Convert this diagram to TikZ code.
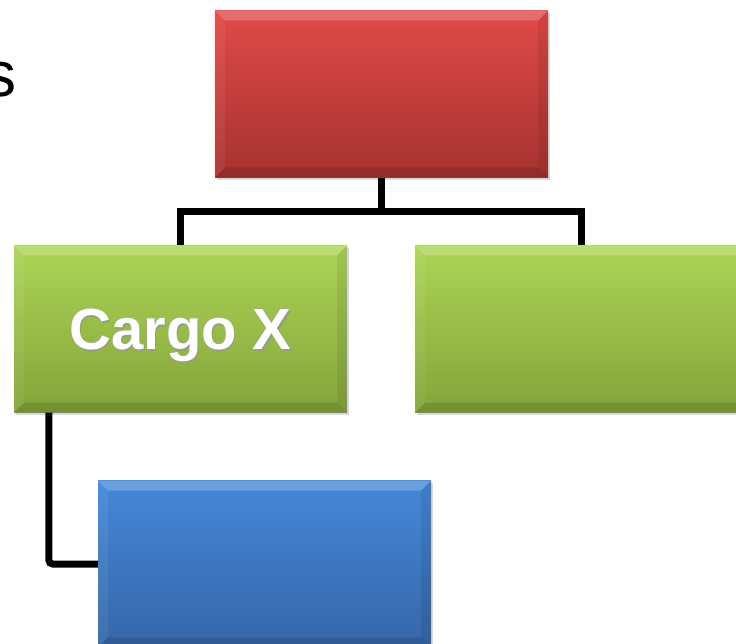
\documentclass[tikz,border=0pt]{standalone}
\usepackage{fontspec}
\setmainfont{Liberation Sans}
\usetikzlibrary{shadows}

\definecolor{redtop}{RGB}{224,74,72}
\definecolor{redbot}{RGB}{166,50,48}
\definecolor{greentop}{RGB}{172,212,86}
\definecolor{greenbot}{RGB}{132,164,58}
\definecolor{bluetop}{RGB}{68,136,216}
\definecolor{bluebot}{RGB}{54,102,168}

\begin{document}
\begin{tikzpicture} [
            x=1pt, y=-1pt,
            box/.style = {rectangle, inner sep=0pt, minimum width=333pt, minimum height=167pt,
                drop shadow={shadow xshift=1.5pt, shadow yshift=-2.5pt, opacity=.3},
                path picture={
                    % bevelled rim: light on top and left, dark on right and bottom
                    \fill[white,opacity=.2] (path picture bounding box.north west) -- (path picture bounding box.north east)
                        -- ([shift={(-10pt,-10pt)}]path picture bounding box.north east) -- ([shift={(10pt,-10pt)}]path picture bounding box.north west) -- cycle;
                    \fill[white,opacity=.06] (path picture bounding box.north west) -- ([shift={(10pt,-10pt)}]path picture bounding box.north west)
                        -- ([shift={(10pt,10pt)}]path picture bounding box.south west) -- (path picture bounding box.south west) -- cycle;
                    \fill[black,opacity=.07] (path picture bounding box.north east) -- ([shift={(-10pt,-10pt)}]path picture bounding box.north east)
                        -- ([shift={(-10pt,10pt)}]path picture bounding box.south east) -- (path picture bounding box.south east) -- cycle;
                    \fill[black,opacity=.12] (path picture bounding box.south west) -- ([shift={(10pt,10pt)}]path picture bounding box.south west)
                        -- ([shift={(-10pt,10pt)}]path picture bounding box.south east) -- (path picture bounding box.south east) -- cycle;
                }},
            red box/.style = {box, top color=redtop, bottom color=redbot},
            green box/.style = {box, top color=greentop, bottom color=greenbot},
            blue box/.style = {box, top color=bluetop, bottom color=bluebot},
            box text/.style = {text=white, font=\bfseries\fontsize{58}{60}\selectfont, text depth=0pt},
            link/.style = {draw, line width=7pt, black},
        ]
        \useasboundingbox (0,0) rectangle (736,644);
        % end of the title word running in from the left
        \node[anchor=base east, inner sep=0pt, font=\fontsize{64}{70}\selectfont] (title) at (17,97) {s};
        % the boxes of the chart
        \foreach \pos/\name/\kind in {
                {(381.5,94)/top/red},
                {(180.5,329)/left/green},
                {(581.5,329)/right/green},
                {(264.5,564)/sub/blue}}
            \node[\kind\space box] (\name) at \pos {};
        \node[box text] (cargo shadow) at ([shift={(1.5pt,-2pt)}]left.center) {\textcolor{black!40}{Cargo X}};
        \node[box text] (cargo) at (left.center) {Cargo X};
        % connectors below the boxes
        \path[link] (top.south) -- ++(0,34) -| (left.north);
        \path[link] (top.south) -- ++(0,34) -| (right.north);
        \path[link, rounded corners=4pt] ([xshift=35pt]left.south west) |- (sub.west);
    \end{tikzpicture}
\end{document}
